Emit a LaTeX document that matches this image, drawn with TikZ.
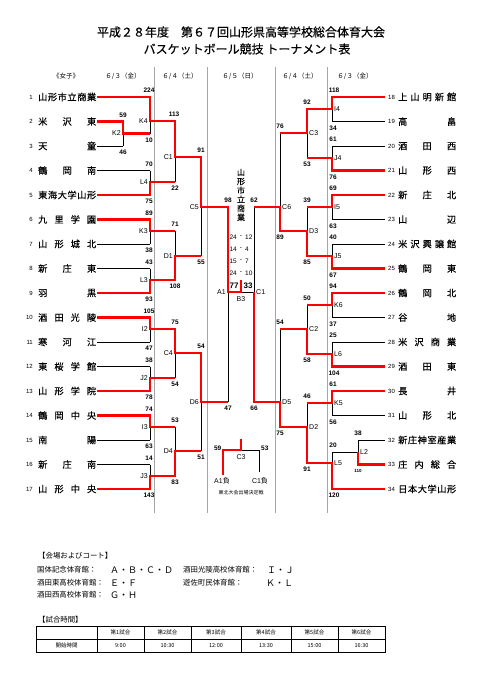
\documentclass[tikz,border=0pt]{standalone}
\usepackage{fontspec}
\setmainfont{Noto Sans CJK JP}
\newfontfamily\jpb[FakeBold=0.3]{Noto Sans CJK JP}
\newfontfamily\lat{Liberation Sans}
\newcommand\jn[1]{\makebox[58pt][s]{#1}}
\begin{document}
\begin{tikzpicture}[x=1pt,y=-1pt,
  bk/.style={line width=0.7pt,black},
  rd/.style={line width=2.6pt,red,line join=miter},
  sep/.style={line width=0.8pt,gray!70},
  sc/.style={font=\lat\bfseries\fontsize{6.5}{7}\selectfont,inner sep=0.5pt},
  ml/.style={font=\lat\fontsize{7}{8}\selectfont,inner sep=0.5pt},
  tnum/.style={font=\lat\fontsize{6}{7}\selectfont,inner sep=0pt},
  tname/.style={font=\jpb\fontsize{9.2}{10}\selectfont,inner sep=0pt},
  hdr/.style={font=\fontsize{6.5}{7}\selectfont,inner sep=0pt},
  venue/.style={font=\fontsize{7.4}{8}\selectfont,inner sep=0pt,anchor=west},
  court/.style={font=\fontsize{9}{10}\selectfont,inner sep=0pt,anchor=west},
  cell/.style={font=\fontsize{5.5}{6}\selectfont,inner sep=0pt},
]
\newcommand\sT[3]{\node[sc] at (#1,#2-6.5) {#3};}
\newcommand\sB[3]{\node[sc] at (#1,#2+6.5) {#3};}
\newcommand\mL[3]{\node[ml,anchor=east] at (#1-1.5,#2) {#3};}
\newcommand\mR[3]{\node[ml,anchor=west] at (#1+1.5,#2) {#3};}
\fill[white] (0,0) rectangle (481,680);
\useasboundingbox (0,0) rectangle (481,680);

% titles
\node[font=\jpb\fontsize{12}{14}\selectfont] (title1) at (241,32) {平成２８年度　第６７回山形県高等学校総合体育大会};
\node[font=\jpb\fontsize{12}{14}\selectfont] (title2) at (247,49) {バスケットボール競技\ トーナメント表};

% header row
\node[hdr] (h0) at (66,76) {《女子》};
\node[hdr] (h1) at (123,76) {６/３（金）};
\node[hdr] (h2) at (180,76) {６/４（土）};
\node[hdr] (h3) at (240,76) {６/５（日）};
\node[hdr] (h4) at (300,76) {６/４（土）};
\node[hdr] (h5) at (355,76) {６/３（金）};

% day separators
\foreach \x in {154.5,207,275,327.5} \draw[sep] (\x,67) -- (\x,513);

% left teams
\foreach \n/\y/\nm in {1/97/{山\hfill 形\hfill 市\hfill 立\hfill 商\hfill 業},
  2/121.5/{米\hfill 沢\hfill 東},3/146/{天\hfill 童},4/170.5/{鶴\hfill 岡\hfill 南},
  5/195/{東\hfill 海\hfill 大\hfill 学\hfill 山\hfill 形},6/219.5/{九\hfill 里\hfill 学\hfill 園},
  7/244/{山\hfill 形\hfill 城\hfill 北},8/268.5/{新\hfill 庄\hfill 東},9/293/{羽\hfill 黒},
  10/317.5/{酒\hfill 田\hfill 光\hfill 陵},11/342/{寒\hfill 河\hfill 江},
  12/366.5/{東\hfill 桜\hfill 学\hfill 館},13/391/{山\hfill 形\hfill 学\hfill 院},
  14/415.5/{鶴\hfill 岡\hfill 中\hfill 央},15/440/{南\hfill 陽},16/464.5/{新\hfill 庄\hfill 南},
  17/489/{山\hfill 形\hfill 中\hfill 央}}
{\node[tnum,anchor=east] (n\n) at (33,\y) {\n};
 \node[tname,anchor=west] (t\n) at (38,\y) {\jn{\nm}};}

% right teams
\foreach \n/\y/\nm in {18/97/{上\hfill 山\hfill 明\hfill 新\hfill 館},19/121.5/{高\hfill 畠},
  20/146/{酒\hfill 田\hfill 西},21/170.5/{山\hfill 形\hfill 西},22/195/{新\hfill 庄\hfill 北},
  23/219.5/{山\hfill 辺},24/244/{米\hfill 沢\hfill 興\hfill 譲\hfill 館},25/268.5/{鶴\hfill 岡\hfill 東},
  26/293/{鶴\hfill 岡\hfill 北},27/317.5/{谷\hfill 地},28/342/{米\hfill 沢\hfill 商\hfill 業},
  29/366.5/{酒\hfill 田\hfill 東},30/391/{長\hfill 井},31/415.5/{山\hfill 形\hfill 北},
  32/440/{新\hfill 庄\hfill 神\hfill 室\hfill 産\hfill 業},33/464.5/{庄\hfill 内\hfill 総\hfill 合},
  34/489/{日\hfill 本\hfill 大\hfill 学\hfill 山\hfill 形}}
{\node[tnum,anchor=west] (n\n) at (388,\y) {\n};
 \node[tname,anchor=west] (t\n) at (398,\y) {\jn{\nm}};}

% ---------- black structure, left ----------
\foreach \y in {97,170.5,195,219.5,244,268.5,293,317.5,342,366.5,391,415.5,440,464.5,489}
  \draw[bk] (97,\y) -- (150,\y);
\draw[bk] (97,121.5) -- (123,121.5) (97,146) -- (123,146);
\draw[bk] (123,121.5)--(123,146) (150,97)--(150,133.5) (150,170.5)--(150,195)
  (175,121)--(175,182) (150,219.5)--(150,244) (150,268.5)--(150,293)
  (175,231)--(175,280) (201,157)--(201,256) (150,317.5)--(150,342)
  (150,366.5)--(150,391) (175,329)--(175,378) (150,415.5)--(150,440)
  (150,464.5)--(150,489) (175,427)--(175,476) (201,353)--(201,451)
  (228,207)--(228,402) (228,292)--(254,292);

% ---------- black structure, right ----------
\foreach \y in {97,121.5,146,170.5,195,219.5,244,268.5,293,317.5,342,366.5,391,415.5,489}
  \draw[bk] (385,\y) -- (332,\y);
\draw[bk] (385,440) -- (358,440) (385,464.5) -- (358,464.5);
\draw[bk] (332,97)--(332,121.5) (332,146)--(332,170.5) (307,109)--(307,158)
  (332,195)--(332,219.5) (332,244)--(332,268.5) (307,207)--(307,256)
  (280,133)--(280,231) (332,293)--(332,317.5) (332,342)--(332,366.5)
  (307,305)--(307,354) (332,391)--(332,415.5) (358,440)--(358,464.5)
  (358,452)--(332,452) (332,452)--(332,489) (307,403)--(307,463)
  (280,329)--(280,427) (254,207)--(254,402);

% ---------- red paths, left ----------
\draw[rd] (97,97)--(150,97)--(150,121)--(175,121)--(175,157)--(201,157)--(201,207)--(228,207)--(228,292)--(241,292);
\draw[rd] (241,293.3)--(241,280);
\draw[rd] (97,121.5)--(123,121.5)--(123,133.5)--(150,133.5);
\draw[rd] (97,195)--(150,195)--(150,182)--(175,182);
\draw[rd] (97,219.5)--(150,219.5)--(150,231)--(175,231);
\draw[rd] (97,293)--(150,293)--(150,280)--(175,280)--(175,256)--(201,256);
\draw[rd] (97,317.5)--(150,317.5)--(150,329)--(175,329)--(175,353)--(201,353)--(201,402)--(228,402);
\draw[rd] (97,391)--(150,391)--(150,378)--(175,378);
\draw[rd] (97,415.5)--(150,415.5)--(150,427)--(175,427);
\draw[rd] (97,489)--(150,489)--(150,476)--(175,476)--(175,451)--(201,451);

% ---------- red paths, right ----------
\draw[rd] (385,97)--(332,97)--(332,109)--(307,109)--(307,133)--(280,133);
\draw[rd] (385,170.5)--(332,170.5)--(332,158)--(307,158);
\draw[rd] (385,195)--(332,195)--(332,207)--(307,207);
\draw[rd] (385,268.5)--(332,268.5)--(332,256)--(307,256)--(307,231)--(280,231)--(280,207)--(254,207);
\draw[rd] (385,293)--(332,293)--(332,305)--(307,305);
\draw[rd] (385,366.5)--(332,366.5)--(332,354)--(307,354)--(307,329)--(280,329);
\draw[rd] (385,391)--(332,391)--(332,403)--(307,403);
\draw[rd] (385,464.5)--(358,464.5)--(358,452);
\draw[rd] (385,489)--(332,489)--(332,463)--(307,463)--(307,427)--(280,427)--(280,402)--(254,402)--(254,292);

% ---------- scores, left ----------
\sT{123}{121.5}{59} \sB{123}{146}{46}
\sT{149}{97}{224} \sB{149}{133.5}{10}
\sT{149}{170.5}{70} \sB{149}{195}{75}
\sT{174}{121}{113} \sB{175}{182}{22}
\sT{149}{219.5}{89} \sB{149}{244}{38}
\sT{149}{268.5}{43} \sB{149}{293}{93}
\sT{175}{231}{71} \sB{175}{280}{108}
\sT{201}{157}{91} \sB{201}{256}{55}
\sT{149}{317.5}{105} \sB{149}{342}{47}
\sT{149}{366.5}{38} \sB{149}{391}{78}
\sT{175}{329}{75} \sB{175}{378}{54}
\sT{149}{415.5}{74} \sB{149}{440}{63}
\sT{149}{464.5}{14} \sB{149}{489}{143}
\sT{175}{427}{53} \sB{175}{476}{83}
\sT{201}{353}{54} \sB{201}{451}{51}
\sT{228}{207}{98} \sB{228}{402}{47}

% ---------- scores, right ----------
\sT{334}{97}{118} \sB{333}{121.5}{34}
\sT{333}{146}{61} \sB{333}{170.5}{76}
\sT{307}{109}{92} \sB{307}{158}{53}
\sT{333}{195}{69} \sB{333}{219.5}{63}
\sT{333}{244}{40} \sB{333}{268.5}{67}
\sT{307}{207}{39} \sB{307}{256}{85}
\sT{280}{133}{76} \sB{280}{231}{89}
\sT{333}{293}{94} \sB{333}{317.5}{37}
\sT{333}{342}{25} \sB{334}{366.5}{104}
\sT{307}{305}{50} \sB{307}{354}{58}
\sT{333}{391}{61} \sB{333}{415.5}{56}
\sT{358}{440}{38}
\node[font=\lat\bfseries\fontsize{4.5}{5}\selectfont,inner sep=0pt] (s110) at (358,471) {110};
\sT{333}{452}{20} \sB{334}{489}{120}
\sT{307}{403}{46} \sB{307}{463}{91}
\sT{280}{329}{54} \sB{280}{427}{75}
\sT{254}{207}{62} \sB{254}{402}{66}

% ---------- match labels ----------
\mL{123}{133.5}{K2} \mL{150}{121}{K4} \mL{150}{182}{L4} \mL{175}{157}{C1}
\mL{150}{231}{K3} \mL{150}{280}{L3} \mL{175}{256}{D1} \mL{201}{207}{C5}
\mL{150}{329}{I2} \mL{150}{378}{J2} \mL{175}{353}{C4} \mL{150}{427}{I3}
\mL{150}{476}{J3} \mL{175}{451}{D4} \mL{201}{402}{D6} \mL{228}{292}{A1}
\mR{332}{109}{I4} \mR{332}{158}{J4} \mR{307}{133}{C3} \mR{332}{207}{I5}
\mR{332}{256}{J5} \mR{307}{231}{D3} \mR{280}{207}{C6} \mR{332}{305}{K6}
\mR{332}{354}{L6} \mR{307}{329}{C2} \mR{332}{403}{K5} \mR{358}{452}{L2}
\mR{332}{463}{L5} \mR{307}{427}{D2} \mR{280}{402}{D5} \mR{254}{292}{C1}
\node[ml] (b3) at (241,299) {B3};

% ---------- champion and final ----------
\node[font=\jpb\fontsize{8}{9}\selectfont,align=center,inner sep=0pt] (champ) at (241,195) {山\\形\\市\\立\\商\\業};
\foreach \y/\a/\b in {237/24/12,249/14/4,261/15/7,273/24/10}{
  \node[font=\lat\fontsize{6.5}{7}\selectfont,inner sep=0pt,anchor=east] at (237,\y) {\a};
  \node[font=\lat\fontsize{6.5}{7}\selectfont,inner sep=0pt] at (241,\y) {-};
  \node[font=\lat\fontsize{6.5}{7}\selectfont,inner sep=0pt,anchor=west] at (245,\y) {\b};}
\node[font=\lat\bfseries\fontsize{8}{9}\selectfont,inner sep=0pt] (f1) at (234,286) {77};
\node[font=\lat\bfseries\fontsize{8}{9}\selectfont,inner sep=0pt] (f2) at (248,286) {33};

% ---------- third place ----------
\draw[bk] (241,450)--(259,450)--(259,472);
\draw[rd] (223,475)--(223,450)--(241,450);
\draw[rd] (241,451.3)--(241,439);
\node[sc,anchor=east] (t59) at (222,448.5) {59};
\node[sc,anchor=west] (t53) at (260.5,448.5) {53};
\node[ml] (c3b) at (241,457.5) {C3};
\node[font=\fontsize{7}{8}\selectfont,inner sep=0pt] (a1l) at (222,481) {\lat A1\rm 負};
\node[font=\fontsize{7}{8}\selectfont,inner sep=0pt] (c1l) at (260,481) {\lat C1\rm 負};
\node[font=\fontsize{5}{6}\selectfont,inner sep=0pt] (tohoku) at (241,493) {東北大会出場決定戦};

% ---------- venues ----------
\node[venue] (v0) at (38,556) {【会場およびコート】};
\node[venue] (v1) at (37,570) {国体記念体育館：};
\node[court] (c1) at (110,570) {Ａ・Ｂ・Ｃ・Ｄ};
\node[venue] (v2) at (183,570) {酒田光陵高校体育館：};
\node[court] (c2) at (267,570) {Ｉ・Ｊ};
\node[venue] (v3) at (37,583) {酒田東高校体育館：};
\node[court] (c3) at (110,583) {Ｅ・Ｆ};
\node[venue] (v4) at (183,583) {遊佐町民体育館：};
\node[court] (c4) at (266,583) {Ｋ・Ｌ};
\node[venue] (v5) at (37,595) {酒田西高校体育館：};
\node[court] (c5) at (110,595) {Ｇ・Ｈ};
\node[venue] (v6) at (38,620) {【試合時間】};

% ---------- table ----------
\draw[line width=0.9pt] (36,626) rectangle (385,652);
\draw[line width=0.7pt] (36,639) -- (385,639);
\foreach \x in {97,144,191,241,291,338} \draw[line width=0.7pt] (\x,626) -- (\x,652);
\foreach \x/\a/\b in {120.5/第1試合/9:00,167.5/第2試合/10:30,216/第3試合/12:00,266/第4試合/13:30,314.5/第5試合/15:00,361.5/第6試合/16:30}{
  \node[cell] at (\x,632.5) {\a};
  \node[cell] at (\x,645.5) {\b};}
\node[cell] (kaishi) at (66.5,645.5) {開始時間};
\end{tikzpicture}
\end{document}
